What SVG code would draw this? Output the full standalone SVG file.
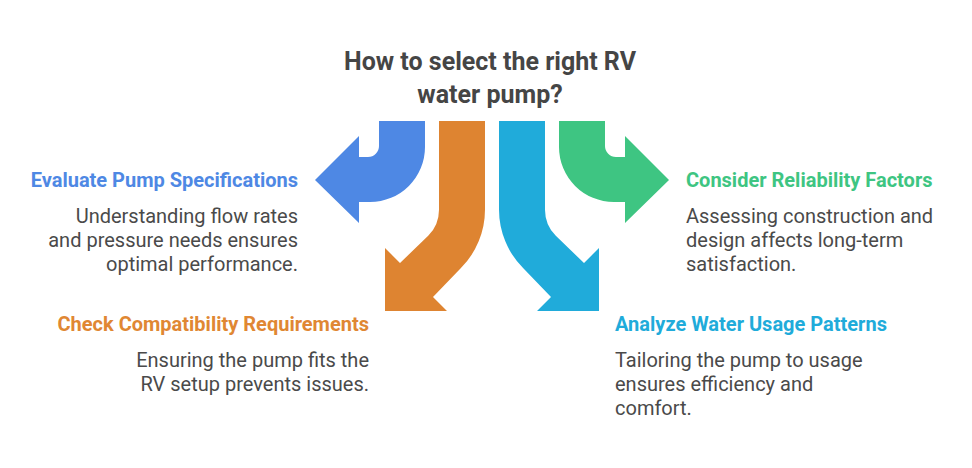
<svg xmlns="http://www.w3.org/2000/svg" width="972" height="468" viewBox="0 0 972 468">
<style>
  text { font-family: Roboto, "Liberation Sans", sans-serif; }
  .title { font-size: 25px; font-weight: 700; fill: #454545; text-anchor: middle; }
  .head { font-size: 20px; font-weight: 700; }
  .body { font-size: 20px; fill: #4a4a4a; }
  .r { text-anchor: end; }
</style>
<rect width="972" height="468" fill="#ffffff"/>
<g id="title">
  <text class="title" x="490" y="70">How to select the right RV</text>
  <text class="title" x="490" y="103">water pump?</text>
</g>
<g id="connectors">
  <path id="arrow-evaluate" fill="#4E88E4" d="M379,121 H425 V147 A55,55 0 0 1 370,202 H359 V223 L315,180 L359,136 V157 H368 A11,11 0 0 0 379,146 Z"/>
  <path id="arrow-check" fill="#DE8431" d="M439,121 H485 V209.6 A83,83 0 0 1 460.7,268.3 L433,297 L447,311 H385 V248 L400,263 L428.2,235.8 A37,37 0 0 0 439,209.6 Z"/>
  <path id="arrow-analyze" fill="#20ABDA" d="M545,121 H499 V209.6 A83,83 0 0 0 523.3,268.3 L551,297 L537,311 H599 V248 L584,263 L555.8,235.8 A37,37 0 0 1 545,209.6 Z"/>
  <path id="arrow-consider" fill="#3EC582" d="M605,121 H559 V147 A55,55 0 0 0 614,202 H625 V223 L669,180 L625,136 V157 H616 A11,11 0 0 1 605,146 Z"/>
</g>
<g id="node-evaluate">
  <text class="head r" x="298" y="187" fill="#4E88E4">Evaluate Pump Specifications</text>
  <text class="body r" x="298" y="223">Understanding flow rates</text>
  <text class="body r" x="298" y="247">and pressure needs ensures</text>
  <text class="body r" x="298" y="271">optimal performance.</text>
</g>
<g id="node-check">
  <text class="head r" x="369" y="331" fill="#E08733">Check Compatibility Requirements</text>
  <text class="body r" x="369" y="367">Ensuring the pump fits the</text>
  <text class="body r" x="369" y="391">RV setup prevents issues.</text>
</g>
<g id="node-consider">
  <text class="head" x="686" y="187" fill="#3EC582">Consider Reliability Factors</text>
  <text class="body" x="686" y="223">Assessing construction and</text>
  <text class="body" x="686" y="247">design affects long-term</text>
  <text class="body" x="686" y="271">satisfaction.</text>
</g>
<g id="node-analyze">
  <text class="head" x="615" y="331" fill="#20ABDA">Analyze Water Usage Patterns</text>
  <text class="body" x="615" y="367">Tailoring the pump to usage</text>
  <text class="body" x="615" y="391">ensures efficiency and</text>
  <text class="body" x="615" y="415">comfort.</text>
</g>
</svg>
